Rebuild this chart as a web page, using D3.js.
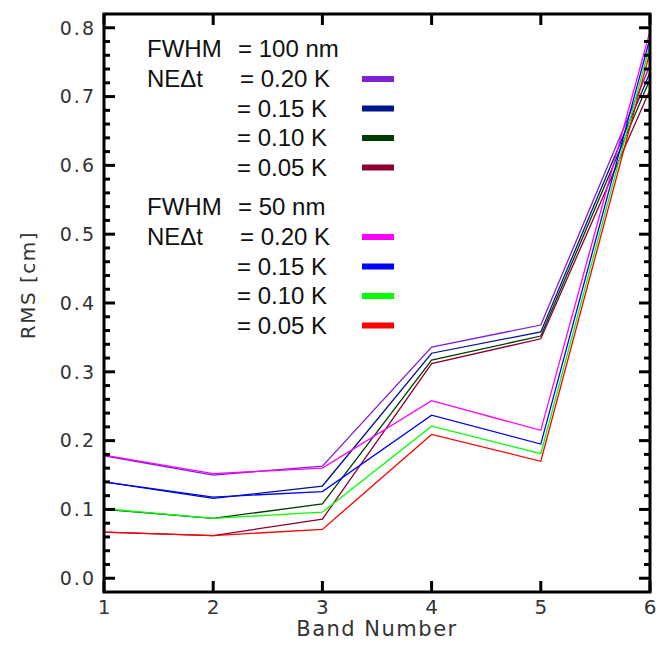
<!DOCTYPE html>
<html><head><meta charset="utf-8">
<script src="https://cdn.jsdelivr.net/npm/d3@7"></script>
<style>body{margin:0;background:#fff}svg{display:block}</style>
</head><body>
<svg id="c" width="666" height="646"></svg>
<script>
const bands = [1, 2, 3, 4, 5, 6];
const xTicks = [1, 2, 3, 4, 5, 6];
const yTicks = [0.0, 0.1, 0.2, 0.3, 0.4, 0.5, 0.6, 0.7, 0.8];
// FWHM = 100 nm
const f100_020 = [0.178, 0.150, 0.163, 0.336, 0.368, 0.745];
const f100_015 = [0.140, 0.116, 0.134, 0.327, 0.358, 0.735];
const f100_010 = [0.100, 0.087, 0.108, 0.317, 0.352, 0.725];
const f100_005 = [0.067, 0.062, 0.086, 0.312, 0.348, 0.710];
// FWHM = 50 nm
const f50_020 = [0.179, 0.152, 0.160, 0.258, 0.215, 0.795];
const f50_015 = [0.140, 0.118, 0.126, 0.237, 0.195, 0.785];
const f50_010 = [0.101, 0.087, 0.096, 0.221, 0.181, 0.775];
const f50_005 = [0.067, 0.062, 0.071, 0.209, 0.170, 0.765];
const netLabels = ["= 0.20 K", "= 0.15 K", "= 0.10 K", "= 0.05 K"];
const colors100 = ["#7f1fd6", "#00148c", "#003c00", "#8c0032"];
const colors50 = ["#ff00ff", "#0000ff", "#00ff00", "#ff0000"];

const svg = d3.select("#c");
const L = 104, R = 650, T = 14, B = 592;
const x = d3.scaleLinear().domain([1, 6]).range([L, R]);
const y = d3.scaleLinear().domain([-0.02, 0.82]).range([B, T]);

const series = [
  {v: f100_020, c: colors100[0]}, {v: f100_015, c: colors100[1]},
  {v: f100_010, c: colors100[2]}, {v: f100_005, c: colors100[3]},
  {v: f50_020, c: colors50[0]}, {v: f50_015, c: colors50[1]},
  {v: f50_010, c: colors50[2]}, {v: f50_005, c: colors50[3]}
];
const line = d3.line().x((d, i) => x(bands[i])).y(d => y(d));
svg.append("g").selectAll("path").data(series).join("path")
  .attr("d", d => line(d.v)).attr("fill", "none")
  .attr("stroke", d => d.c).attr("stroke-width", 1.3);

// frame
svg.append("rect").attr("x", L).attr("y", T).attr("width", R - L).attr("height", B - T)
  .attr("fill", "none").attr("stroke", "#000").attr("stroke-width", 3);

// y ticks
const minorY = d3.range(0, 81, 2).map(v => v / 100).filter(v => Math.round(v * 100) % 10 !== 0);
const tk = svg.append("g").attr("stroke", "#000").attr("stroke-width", 3);
yTicks.forEach(v => {
  tk.append("line").attr("x1", L).attr("x2", L + 11).attr("y1", y(v)).attr("y2", y(v));
  tk.append("line").attr("x1", R).attr("x2", R - 11).attr("y1", y(v)).attr("y2", y(v));
});
minorY.forEach(v => {
  tk.append("line").attr("x1", L).attr("x2", L + 6).attr("y1", y(v)).attr("y2", y(v));
  tk.append("line").attr("x1", R).attr("x2", R - 6).attr("y1", y(v)).attr("y2", y(v));
});
xTicks.forEach(v => {
  tk.append("line").attr("x1", x(v)).attr("x2", x(v)).attr("y1", B).attr("y2", B - 11);
  tk.append("line").attr("x1", x(v)).attr("x2", x(v)).attr("y1", T).attr("y2", T + 11);
});

const axFont = "'DejaVu Sans', sans-serif";
svg.append("g").selectAll("text").data(yTicks).join("text")
  .attr("x", 96).attr("y", d => y(d)).attr("dy", "0.36em")
  .attr("text-anchor", "end").attr("font-family", axFont).attr("font-size", 19)
  .attr("letter-spacing", 2).attr("fill", "#333")
  .text(d => d.toFixed(1));
svg.append("g").selectAll("text").data(xTicks).join("text")
  .attr("x", d => x(d)).attr("y", 614)
  .attr("text-anchor", "middle").attr("font-family", axFont).attr("font-size", 20)
  .attr("fill", "#333").text(d => d);
svg.append("text").attr("x", 377).attr("y", 636).attr("text-anchor", "middle")
  .attr("font-family", axFont).attr("font-size", 21).attr("letter-spacing", 1.5)
  .attr("fill", "#333").text("Band Number");
svg.append("text").attr("transform", "translate(35,285) rotate(-90)")
  .attr("text-anchor", "middle").attr("font-family", axFont).attr("font-size", 20)
  .attr("letter-spacing", 1.5).attr("fill", "#333").text("RMS [cm]");

// legend
const lf = "'Liberation Sans', Arial, sans-serif";
const leg = svg.append("g").attr("font-family", lf).attr("font-size", 24).attr("fill", "#111");
function group(base, fw, cols) {
  leg.append("text").attr("x", 147).attr("y", base).text("FWHM");
  leg.append("text").attr("x", 238).attr("y", base).text(fw);
  leg.append("text").attr("x", 147).attr("y", base + 30).text("NEΔt");
  netLabels.forEach((t, i) => {
    const yb = base + 30 + i * 29.5;
    leg.append("text").attr("x", i === 0 ? 240 : 237).attr("y", yb).text(t);
    leg.append("line").attr("x1", 362).attr("x2", 394).attr("y1", yb - 8).attr("y2", yb - 8)
      .attr("stroke", cols[i]).attr("stroke-width", 6);
  });
}
group(57, "= 100 nm", colors100);
group(215, "= 50 nm", colors50);
</script>
</body></html>
